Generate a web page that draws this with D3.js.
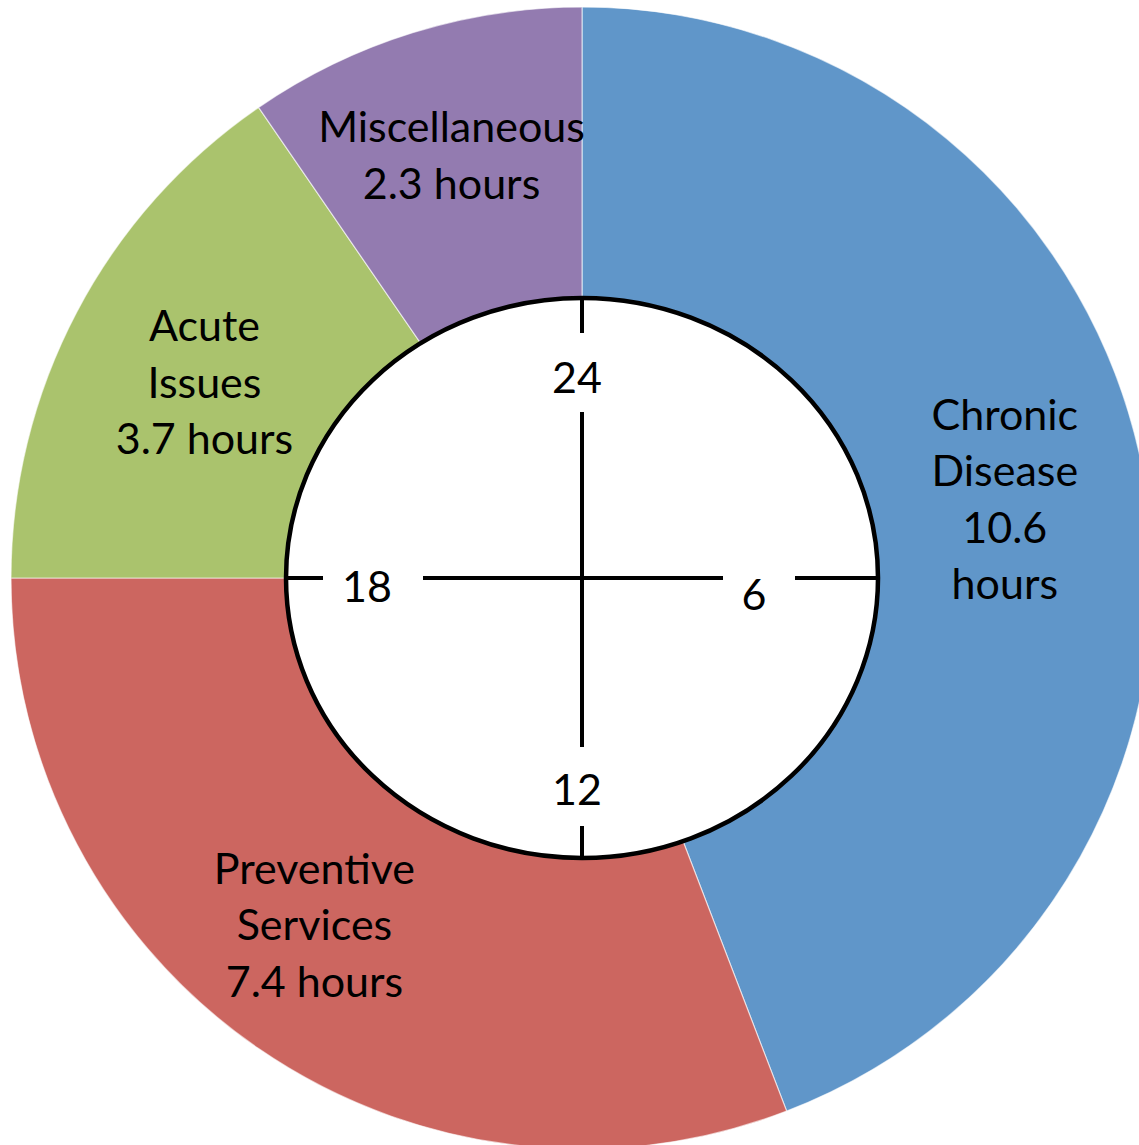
<!DOCTYPE html>
<html>
<head>
<meta charset="utf-8">
<script src="https://cdn.jsdelivr.net/npm/d3@7"></script>
<style>
  body { margin: 0; background: #ffffff; }
  svg { display: block; }
</style>
</head>
<body>
<div id="chart"></div>
<script>
// data
var categories = ["Chronic Disease", "Preventive Services", "Acute Issues", "Miscellaneous"];
var hours = [10.6, 7.4, 3.7, 2.3];
var colors = ["#6096C9", "#CC6660", "#AAC36D", "#937BB0"];
var clockHours = [24, 6, 12, 18];
var clockLabels = ["24", "6", "12", "18"];

// layout
var width = 1139, height = 1145;
var cx = 582, cy = 578;
var outer_r = 571;
var inner_rx = 296, inner_ry = 280;
var font = "Lato, 'Open Sans', sans-serif";
var fontsize = 43;
var line_h = 56.5;
var cap_half = 15;
var label_r = 430;
var label_nudge = [[0, 0], [-24, -7], [3, 5], [-3, -12]];
var wrap_width = [160, 240, 205, 310];
var tick_dist = [200, 172, 212, 215];
var tick_gap = [[166, 245], [141, 213], [169, 248], [159, 259]];
var tick_dx = [-5, 0, -5, 0];
var tick_dy = [0, 17, 0, 9];

var rows = categories.map(function(c, i) {
  return { name: c, value: hours[i], color: colors[i], i: i };
});

var svg = d3.select("#chart")
  .append("svg")
  .attr("width", width)
  .attr("height", height);

var g = svg.append("g")
  .attr("transform", "translate(" + cx + "," + cy + ")");

var pie = d3.pie()
  .sort(null)
  .value(function(d) { return d.value; })
  .startAngle(0)
  .endAngle(2 * Math.PI);

var arc = d3.arc().innerRadius(0).outerRadius(outer_r);
var labelArc = d3.arc().innerRadius(label_r).outerRadius(label_r);

var slices = pie(rows);

g.selectAll("path.slice")
  .data(slices)
  .enter()
  .append("path")
  .attr("class", "slice")
  .attr("d", arc)
  .style("fill", function(d) { return d.data.color; })
  .style("stroke", "#ffffff")
  .style("stroke-opacity", 0.6)
  .style("stroke-width", 1.2);

// inner clock face
g.append("ellipse")
  .attr("rx", inner_rx)
  .attr("ry", inner_ry)
  .style("fill", "#ffffff")
  .style("stroke", "#000000")
  .style("stroke-width", 4.5);

var hourAngle = d3.scaleLinear().domain([0, 24]).range([0, 2 * Math.PI]);

function edgeDist(a) {
  var s = Math.sin(a), c = Math.cos(a);
  return inner_rx * inner_ry / Math.sqrt(Math.pow(inner_ry * s, 2) + Math.pow(inner_rx * c, 2));
}

clockHours.forEach(function(h, i) {
  var a = hourAngle(h);
  var ux = Math.sin(a), uy = -Math.cos(a);
  var segs = [[0, tick_gap[i][0]], [tick_gap[i][1], edgeDist(a)]];
  segs.forEach(function(s) {
    g.append("line")
      .attr("x1", ux * s[0])
      .attr("y1", uy * s[0])
      .attr("x2", ux * s[1])
      .attr("y2", uy * s[1])
      .style("stroke", "#000000")
      .style("stroke-width", 4);
  });
  g.append("text")
    .attr("x", ux * tick_dist[i] + tick_dx[i])
    .attr("y", uy * tick_dist[i] + cap_half + tick_dy[i])
    .style("text-anchor", "middle")
    .style("font-family", font)
    .style("font-size", fontsize + "px")
    .style("fill", "#000000")
    .text(clockLabels[i]);
});

// slice labels
var measure = svg.append("text")
  .style("font-family", font)
  .style("font-size", fontsize + "px");

function wrap(words, maxw) {
  var lines = [], cur = "";
  words.forEach(function(w) {
    var test = cur ? cur + " " + w : w;
    measure.text(test);
    if (cur && measure.node().getComputedTextLength() > maxw) {
      lines.push(cur);
      cur = w;
    } else {
      cur = test;
    }
  });
  if (cur) lines.push(cur);
  return lines;
}

slices.forEach(function(d) {
  var i = d.data.i;
  var lines = wrap(d.data.name.split(" "), wrap_width[i])
    .concat(wrap([String(d.data.value), "hours"], wrap_width[i]));
  var c = labelArc.centroid(d);
  var x = c[0] + label_nudge[i][0];
  var y0 = c[1] + label_nudge[i][1] - (lines.length - 1) * line_h / 2 + cap_half;
  var t = g.append("text")
    .style("text-anchor", "middle")
    .style("font-family", font)
    .style("font-size", fontsize + "px")
    .style("fill", "#000000");
  lines.forEach(function(l, k) {
    t.append("tspan")
      .attr("x", x)
      .attr("y", y0 + k * line_h)
      .text(l);
  });
});

measure.remove();
</script>
</body>
</html>
